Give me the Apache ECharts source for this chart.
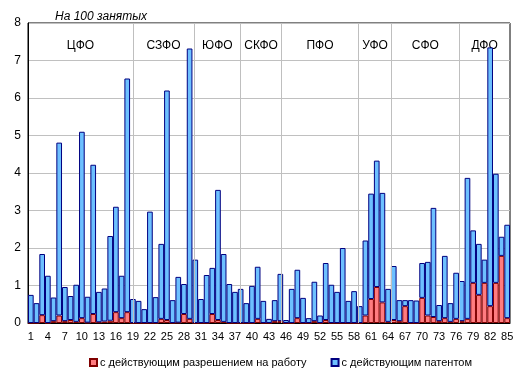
<!DOCTYPE html>
<html>
    <head>
        <meta charset="utf-8">
        <script src="https://cdn.jsdelivr.net/npm/echarts@6/dist/echarts.min.js"></script>
        <style>
            html, body { margin: 0; padding: 0; background: #fff; }
            #main { width: 521px; height: 377px; }
        </style>
    </head>
    <body>
        <div id="main"></div>
        <script>
            // region numbers 1..85 (category labels)
            var regionNums = [];
            for (var i = 1; i <= 85; i++) {
                regionNums.push(String(i));
            }

            // per 100 employed: with a work permit
            var permitValues = [
                0, 0, 0.21, 0, 0.05, 0.2, 0.05, 0.08, 0.03, 0.13,
                0.01, 0.24, 0.02, 0.04, 0.06, 0.29, 0.13, 0.29, 0, 0,
                0, 0, 0, 0.11, 0.08, 0, 0.01, 0.24, 0.11, 0,
                0, 0, 0.24, 0.08, 0.03, 0, 0, 0, 0, 0,
                0.11, 0, 0, 0.05, 0.05, 0, 0, 0.13, 0, 0,
                0.05, 0, 0.08, 0, 0, 0, 0, 0, 0, 0.2,
                0.64, 0.96, 0.55, 0.03, 0.08, 0.05, 0.45, 0, 0, 0.67,
                0.2, 0.16, 0.05, 0.13, 0.03, 0.11, 0.05, 0.11, 1.07, 0.75,
                1.07, 0.45, 1.07, 1.79, 0.13
            ];

            // per 100 employed: with a patent
            var patentValues = [
                0.75, 0.53, 1.63, 1.26, 0.63, 4.61, 0.91, 0.64, 0.99, 4.97,
                0.69, 3.98, 0.81, 0.88, 2.26, 2.81, 1.13, 6.23, 0.64, 0.59,
                0.37, 2.97, 0.69, 2.0, 6.12, 0.61, 1.22, 0.8, 7.21, 1.69,
                0.64, 1.28, 1.23, 3.47, 1.81, 1.04, 0.83, 0.91, 0.53, 0.99,
                1.39, 0.59, 0.11, 0.56, 1.26, 0.08, 0.91, 1.29, 0.67, 0.13,
                1.05, 0.2, 1.52, 1.02, 0.83, 2.0, 0.59, 0.85, 0.45, 2.0,
                2.81, 3.37, 2.92, 0.88, 1.44, 0.56, 0.16, 0.61, 0.6, 0.93,
                1.43, 2.91, 0.43, 1.66, 0.5, 1.23, 1.07, 3.76, 1.4, 1.36,
                0.62, 6.9, 2.91, 0.51, 2.49
            ];

            // federal districts and where their groups end (in bar units)
            var districts = ['ЦФО', 'СЗФО', 'ЮФО', 'СКФО', 'ПФО', 'УФО', 'СФО', 'ДФО'];
            var districtBounds = [0, 18.5, 29.3, 37.5, 44.7, 58.3, 64.1, 76.05, 85];

            var fontFamily = '"Liberation Sans", Arial, sans-serif';

            var separators = [];
            for (var s = 1; s < districtBounds.length - 1; s++) {
                separators.push({ xAxis: districtBounds[s] });
            }
            var areas = [];
            for (var d = 0; d < districts.length; d++) {
                areas.push([
                    { name: districts[d], xAxis: districtBounds[d] },
                    { xAxis: districtBounds[d + 1] }
                ]);
            }

            var chart = echarts.init(document.getElementById('main'));

            var option = {
                animation: false,
                textStyle: { fontFamily: fontFamily },
                title: {
                    text: 'На 100 занятых',
                    left: 50,
                    top: 6,
                    textStyle: {
                        fontSize: 12,
                        fontStyle: 'italic',
                        fontWeight: 'normal',
                        color: '#000',
                        fontFamily: fontFamily
                    }
                },
                legend: {
                    left: 84,
                    top: 352,
                    itemWidth: 7,
                    itemHeight: 7,
                    itemGap: 24,
                    icon: 'rect',
                    textStyle: { fontSize: 11, color: '#000', fontFamily: fontFamily, padding: [0, 0, 0, -2] },
                    data: ['с действующим разрешением на работу', 'с действующим патентом']
                },
                grid: {
                    left: 28,
                    right: 11,
                    top: 23,
                    bottom: 54,
                    show: true,
                    borderColor: '#000',
                    borderWidth: 1
                },
                xAxis: [
                    {
                        type: 'category',
                        data: regionNums,
                        axisLine: { lineStyle: { color: '#000' } },
                        axisTick: { show: false },
                        axisLabel: {
                            interval: 2,
                            color: '#000',
                            fontSize: 11,
                            margin: 8,
                            fontFamily: fontFamily
                        }
                    },
                    {
                        type: 'value',
                        min: 0,
                        max: 85,
                        show: false
                    }
                ],
                yAxis: {
                    type: 'value',
                    min: 0,
                    max: 8,
                    interval: 1,
                    axisLine: { show: true, lineStyle: { color: '#000' } },
                    axisTick: { show: false },
                    axisLabel: { color: '#000', fontSize: 12, margin: 7, fontFamily: fontFamily },
                    splitLine: { lineStyle: { color: '#C0C0C0', width: 1 } }
                },
                series: [
                    {
                        name: 'districts',
                        type: 'line',
                        xAxisIndex: 1,
                        data: [[0, 0]],
                        symbol: 'none',
                        silent: true,
                        lineStyle: { opacity: 0 },
                        markLine: {
                            silent: true,
                            symbol: ['none', 'none'],
                            label: { show: false },
                            lineStyle: { color: '#BFBFBF', width: 1, type: 'solid' },
                            data: separators
                        },
                        markArea: {
                            silent: true,
                            itemStyle: { color: 'rgba(0,0,0,0)' },
                            label: {
                                position: 'insideTop',
                                distance: 17,
                                color: '#000',
                                fontSize: 12,
                                fontFamily: fontFamily
                            },
                            data: areas
                        }
                    },
                    {
                        name: 'с действующим разрешением на работу',
                        type: 'bar',
                        stack: 'total',
                        barCategoryGap: 0,
                        data: permitValues,
                        itemStyle: { color: '#FF7C80', borderColor: '#800000', borderWidth: 1 }
                    },
                    {
                        name: 'с действующим патентом',
                        type: 'bar',
                        stack: 'total',
                        barCategoryGap: 0,
                        data: patentValues,
                        itemStyle: { color: '#6DC0FF', borderColor: '#000080', borderWidth: 1 }
                    }
                ]
            };
            chart.setOption(option);
        </script>
    </body>
</html>
